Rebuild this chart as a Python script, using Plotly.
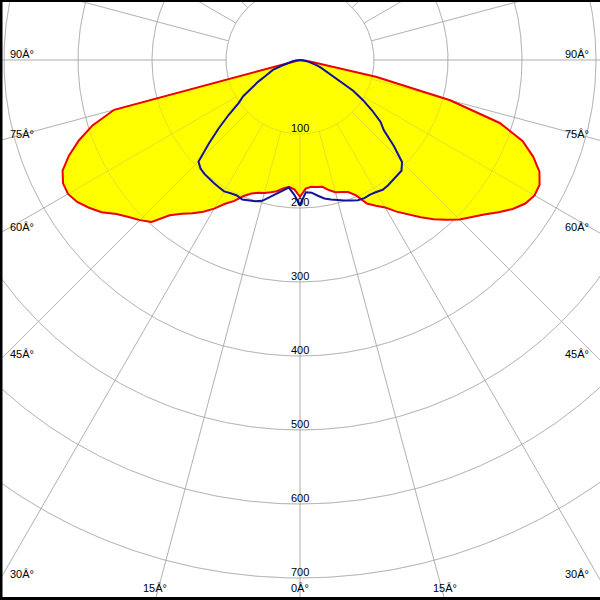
import numpy as np
import plotly.graph_objects as go

# Polar angles (degrees from nadir) and luminous intensity values
angles_deg = [0, 2.5, 5, 7.5, 10, 12.5, 15, 17.5, 20, 22.5, 25, 27.5, 30, 32.5, 35, 37.5,
              40, 42.5, 45, 47.5, 50, 52.5, 55, 57.5, 60, 62.5, 65, 67.5, 70, 72.5, 75,
              77.5, 80, 82.5, 85, 87.5, 90]

# C0-C180 plane (red, filled)
red_right = [185, 174, 172, 173, 174, 180, 185, 187, 190, 198, 214, 222, 230, 243, 255, 268,
             281, 293, 305, 314, 325, 338, 351, 361, 366, 365, 357, 341, 320, 283, 210,
             105, 30, 12, 4, 0, 0]
red_left = [185, 175, 172, 175, 180, 183, 186, 188, 192, 199, 210, 219, 232, 243, 253, 262,
            274, 297, 306, 314, 324, 338, 348, 357, 362, 361, 354, 338, 318, 294, 260,
            0, 0, 0, 0, 0, 0]

# C90-C270 plane (blue)
blue_right = [196, 179, 180, 185, 190, 193, 196, 199, 202, 205, 206, 205, 206, 208, 207, 205,
              204, 203, 195, 172, 148, 137, 119, 101, 83, 57, 47, 38, 30, 24, 18,
              13, 8, 5, 3, 1, 0]
blue_left = [196, 182, 173, 178, 184, 190, 197, 200, 202, 204, 202, 203, 205, 204, 203, 202,
             201, 199, 194, 167, 143, 121, 101, 91, 77, 64, 52, 46, 39, 27, 20,
             14, 10, 6, 4, 1, 0]

ring_values = [100, 200, 300, 400, 500, 600, 700]
ring_labels = ["100", "200", "300", "400", "500", "600", "700"]
spoke_angles = [0, 15, 30, 45, 60, 75, 90, 105, 120, 135, 150, 165, 180, 195, 210, 225,
                240, 255, 270, 285, 300, 315, 330, 345]
side_label_angles = [30, 45, 60, 75, 90]
bottom_label_angles = [0, 15]
deg_suffix = "Â°"

PX_PER_UNIT = 0.74
X_HALF = 300 / PX_PER_UNIT
Y_TOP = 60 / PX_PER_UNIT
Y_BOT = -540 / PX_PER_UNIT


def to_xy(theta_deg, r):
    t = np.radians(np.asarray(theta_deg, dtype=float))
    r = np.asarray(r, dtype=float)
    return r * np.sin(t), -r * np.cos(t)


theta_full = [-a for a in reversed(angles_deg)] + angles_deg[1:]
red_full = list(reversed(red_left)) + red_right[1:]
blue_full = list(reversed(blue_left)) + blue_right[1:]

fig = go.Figure()

circ = np.linspace(0, 360, 721)


def add_grid(color):
    for rv in ring_values:
        x, y = to_xy(circ, np.full_like(circ, rv))
        fig.add_trace(go.Scatter(x=x, y=y, mode="lines", line=dict(color=color, width=1),
                                 hoverinfo="skip", showlegend=False))
    for a in spoke_angles:
        x, y = to_xy([a, a], [100, 1200])
        fig.add_trace(go.Scatter(x=x, y=y, mode="lines", line=dict(color=color, width=1),
                                 hoverinfo="skip", showlegend=False))


add_grid("#c4c4c4")

rx, ry = to_xy(theta_full, red_full)
bx, by = to_xy(theta_full, blue_full)

fig.add_trace(go.Scatter(x=rx, y=ry, mode="lines", fill="toself",
                         fillcolor="#ffff00", line=dict(width=0),
                         hoverinfo="skip", showlegend=False))
add_grid("rgba(140,140,140,0.25)")
fig.add_trace(go.Scatter(x=rx, y=ry, mode="lines", line=dict(color="#ee0000", width=2),
                         showlegend=False))
fig.add_trace(go.Scatter(x=bx, y=by, mode="lines", line=dict(color="#12129a", width=2),
                         showlegend=False))

font = dict(family="Liberation Sans, Arial, sans-serif", size=11, color="black")
ann = []
for rv, lab in zip(ring_values, ring_labels):
    ann.append(dict(x=0, y=-rv, xref="x", yref="y", text=lab, showarrow=False,
                    xanchor="center", yanchor="bottom", yshift=-2, font=font))
for a in side_label_angles:
    yhit = -X_HALF / np.tan(np.radians(a)) if a != 90 else 0.0
    ann.append(dict(x=-X_HALF, y=yhit, xref="x", yref="y", text=f"{a}{deg_suffix}",
                    showarrow=False, xanchor="left", yanchor="bottom", xshift=8, yshift=-2,
                    font=font))
    ann.append(dict(x=X_HALF, y=yhit, xref="x", yref="y", text=f"{a}{deg_suffix}",
                    showarrow=False, xanchor="right", yanchor="bottom", xshift=-9, yshift=-2,
                    font=font))
for a in bottom_label_angles:
    xhit = -Y_BOT * np.tan(np.radians(a))
    xs = [0.0] if a == 0 else [-xhit, xhit]
    for xv in xs:
        ann.append(dict(x=xv, y=Y_BOT, xref="x", yref="y", text=f"{a}{deg_suffix}",
                        showarrow=False, xanchor="center", yanchor="bottom", yshift=4,
                        font=font))

shapes = [
    dict(type="line", xref="paper", yref="paper", x0=0, x1=0, y0=0, y1=1,
         line=dict(color="black", width=5)),
    dict(type="line", xref="paper", yref="paper", x0=0, x1=1, y0=0, y1=0,
         line=dict(color="black", width=6)),
    dict(type="line", xref="paper", yref="paper", x0=0, x1=1, y0=1, y1=1,
         line=dict(color="black", width=4)),
]

fig.update_layout(
    width=600, height=600, margin=dict(l=0, r=0, t=0, b=0),
    paper_bgcolor="white", plot_bgcolor="white",
    xaxis=dict(range=[-X_HALF, X_HALF], visible=False, fixedrange=True),
    yaxis=dict(range=[Y_BOT, Y_TOP], visible=False, fixedrange=True),
    annotations=ann, shapes=shapes, showlegend=False,
)

fig.write_html(
    "out.html",
    config={"displayModeBar": False},
    post_script="document.body.style.margin='0';document.body.style.overflow='hidden';",
)
